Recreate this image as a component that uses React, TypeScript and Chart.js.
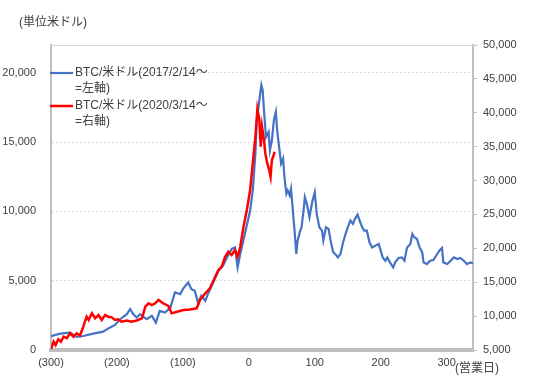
import React, { useEffect, useRef } from "react";
import { Chart, registerables } from "chart.js";

Chart.register(...registerables);

// Business days relative to day 0
const blueDays = [
  -300, -286, -271, -261, -251, -236, -221, -211, -203, -195, -185, -180, -175, -170, -165, -155, -147, -141, -135, -127,
  -119, -112, -104, -99, -92, -87, -82, -77, -72, -66, -61, -54, -46, -39, -33, -26, -21, -17, -13, -6,
  2, 6, 10, 12, 16, 19, 21, 23, 26, 30, 32, 35, 38, 41, 43, 46, 49, 52, 54, 57,
  59, 62, 64, 66, 68, 69, 72, 74, 78, 80, 83, 85, 88, 92, 96, 100, 103, 107, 111, 113,
  117, 121, 124, 128, 131, 135, 139, 143, 146, 150, 154, 158, 161, 165, 168, 172, 175, 179, 183, 187,
  192, 197, 200, 203, 207, 210, 214, 219, 222, 227, 232, 236, 240, 245, 248, 251, 255, 259, 263, 265,
  270, 275, 280, 284, 289, 293, 295, 301, 306, 311, 316, 321, 326, 331, 336, 340,
];
// BTC/USD from 2017/2/14 (left axis)
const blueValues = [
  1000, 1180, 1250, 940, 1010, 1180, 1320, 1610, 1810, 2220, 2580, 2950, 2580, 2340, 2580, 2220, 2460, 1980, 2820, 2700,
  3060, 4150, 4030, 4470, 4870, 4390, 4270, 3420, 3910, 3550, 4150, 4870, 5720, 6080, 6680, 7290, 7400, 5960, 6930, 8370,
  10060, 11510, 14160, 16570, 18020, 19110, 18740, 17300, 15360, 15730, 14400, 15130, 16570, 17170, 15850, 14640, 13440, 13800, 12470, 11270,
  11510, 11150, 11630, 10540, 9340, 8850, 6930, 7890, 8610, 8850, 10060, 11020, 10540, 9580, 10660, 11380, 9820, 8850, 8610, 7890,
  8850, 8740, 7890, 7040, 6930, 6680, 6930, 7770, 8250, 8850, 9340, 9100, 9460, 9770, 9340, 8850, 8610, 8610, 7770, 7400,
  7530, 7650, 7170, 6680, 6440, 6680, 6320, 5960, 6320, 6640, 6680, 6440, 7400, 7650, 8370, 8130, 8010, 7400, 7040, 6320,
  6200, 6440, 6490, 6800, 7170, 7360, 6320, 6200, 6440, 6680, 6560, 6640, 6440, 6200, 6320, 6250,
];

const redDays = [
  -300, -296, -293, -289, -285, -281, -276, -271, -266, -261, -256, -251, -246, -243, -238, -233, -228, -223, -218, -213,
  -208, -203, -198, -193, -185, -178, -170, -162, -157, -152, -147, -142, -137, -130, -122, -117, -109, -99, -89, -79,
  -74, -66, -59, -51, -46, -41, -36, -31, -26, -21, -17, -13, -8, -3, 2, 6, 10, 13, 16, 18,
  20, 23, 25, 28, 31, 33, 35, 37, 39,
];
// BTC/USD from 2020/3/14 (right axis)
const redValues = [
  5150, 6220, 5740, 6580, 6220, 6960, 6730, 7460, 6960, 7460, 7140, 8440, 9910, 9430, 10410, 9680, 10160, 9430, 10160, 9910,
  9820, 9430, 9530, 9170, 9350, 9170, 9350, 9680, 11390, 11890, 11640, 11890, 12380, 11890, 11490, 10410, 10650, 10900, 10970, 11150,
  12380, 13360, 14100, 15810, 16800, 17290, 18760, 19500, 19010, 19750, 18760, 20240, 23190, 25650, 28600, 32540, 36460, 40550, 38930, 34990,
  37940, 35980, 34010, 32540, 31550, 30560, 33030, 33510, 34250,
];

const xTicks = [-300, -200, -100, 0, 100, 200, 300];
const leftTicks = [0, 5000, 10000, 15000, 20000];
const rightTicks = [5000, 10000, 15000, 20000, 25000, 30000, 35000, 40000, 45000, 50000];

const blueLabel = ["BTC/米ドル(2017/2/14～", "=左軸)"];
const redLabel = ["BTC/米ドル(2020/3/14～", "=右軸)"];
const unitLabel = "(単位米ドル)";
const xUnitLabel = "(営業日)";

const BLUE = "#4472C4";
const RED = "#FF0000";
const TEXT = "#404040";
const FONT = "'Liberation Sans', 'Noto Sans CJK JP', sans-serif";

const fmt = (v: number) => v.toLocaleString("en-US");

export default function App() {
  const ref = useRef<HTMLCanvasElement>(null);

  useEffect(() => {
    document.body.style.margin = "0";
    const canvas = ref.current;
    if (!canvas) return;

    const overlay = {
      id: "overlay",
      beforeDatasetsDraw(chart: any) {
        const c = chart.ctx;
        const a = chart.chartArea;
        c.save();
        c.strokeStyle = "#d9d9d9";
        c.lineWidth = 1;
        c.beginPath();
        c.moveTo(a.left, Math.round(a.top) + 0.5);
        c.lineTo(a.right, Math.round(a.top) + 0.5);
        c.stroke();
        c.restore();
      },
      afterDraw(chart: any) {
        const c = chart.ctx;
        c.save();
        c.fillStyle = TEXT;
        c.textBaseline = "middle";
        c.textAlign = "left";
        c.font = `12px ${FONT}`;
        c.fillText(unitLabel, 19, 23);
        c.fillText(xUnitLabel, 455, 369);

        const items = [
          { color: BLUE, lines: blueLabel, y: 73, w: 2.2 },
          { color: RED, lines: redLabel, y: 106, w: 2.5 },
        ];
        for (const it of items) {
          c.strokeStyle = it.color;
          c.lineWidth = it.w;
          c.beginPath();
          c.moveTo(50, it.y);
          c.lineTo(73, it.y);
          c.stroke();
          c.fillStyle = TEXT;
          it.lines.forEach((t, i) => c.fillText(t, 75, it.y + i * 16));
        }
        c.restore();
      },
    };

    const chart = new Chart(canvas, {
      type: "line",
      data: {
        datasets: [
          {
            label: redLabel.join(""),
            data: redDays.map((d, i) => ({ x: d, y: redValues[i] })),
            yAxisID: "y2",
            borderColor: RED,
            borderWidth: 2.5,
            pointRadius: 0,
            tension: 0,
            order: 0,
          },
          {
            label: blueLabel.join(""),
            data: blueDays.map((d, i) => ({ x: d, y: blueValues[i] })),
            yAxisID: "y",
            borderColor: BLUE,
            borderWidth: 2.2,
            pointRadius: 0,
            tension: 0,
            order: 1,
          },
        ],
      },
      plugins: [overlay],
      options: {
        animation: false,
        responsive: true,
        maintainAspectRatio: false,
        layout: { padding: { top: 45, left: 0, right: 0, bottom: 0 } },
        plugins: { legend: { display: false }, tooltip: { enabled: false } },
        font: { family: FONT },
        scales: {
          x: {
            type: "linear",
            min: -300,
            max: 340,
            afterBuildTicks: (s: any) => {
              s.ticks = xTicks.map((v) => ({ value: v }));
            },
            afterFit: (s: any) => {
              s.height = 34;
            },
            grid: { display: false, drawTicks: false, tickLength: 0 },
            border: { display: true, color: "#bfbfbf", width: 4 },
            ticks: {
              color: TEXT,
              font: { size: 11, family: FONT },
              padding: 6,
              maxRotation: 0,
              autoSkip: false,
              callback: (v: any) => (v < 0 ? `(${-v})` : `${v}`),
            },
          },
          y: {
            position: "left",
            min: 0,
            max: 22000,
            afterBuildTicks: (s: any) => {
              s.ticks = leftTicks.map((v) => ({ value: v }));
            },
            afterFit: (s: any) => {
              s.width = 51;
            },
            grid: { color: "#d9d9d9", lineWidth: 1, drawTicks: false },
            border: { display: true, color: "#bfbfbf", width: 2, dash: [2, 2] },
            ticks: {
              color: TEXT,
              font: { size: 11, family: FONT },
              padding: 15,
              callback: (v: any) => fmt(Number(v)),
            },
          },
          y2: {
            position: "right",
            min: 5000,
            max: 50000,
            afterBuildTicks: (s: any) => {
              s.ticks = rightTicks.map((v) => ({ value: v }));
            },
            afterFit: (s: any) => {
              s.width = 67;
            },
            grid: {
              drawOnChartArea: false,
              drawTicks: true,
              tickLength: 4,
              tickColor: "#bfbfbf",
              tickWidth: 1,
            },
            border: { display: true, color: "#bfbfbf", width: 2 },
            ticks: {
              color: TEXT,
              font: { size: 11, family: FONT },
              padding: 6,
              callback: (v: any) => fmt(Number(v)),
            },
          },
        },
      },
    } as any);

    return () => chart.destroy();
  }, []);

  return (
    <div style={{ position: "relative", width: 540, height: 384, background: "#fff" }}>
      <canvas ref={ref} />
    </div>
  );
}
